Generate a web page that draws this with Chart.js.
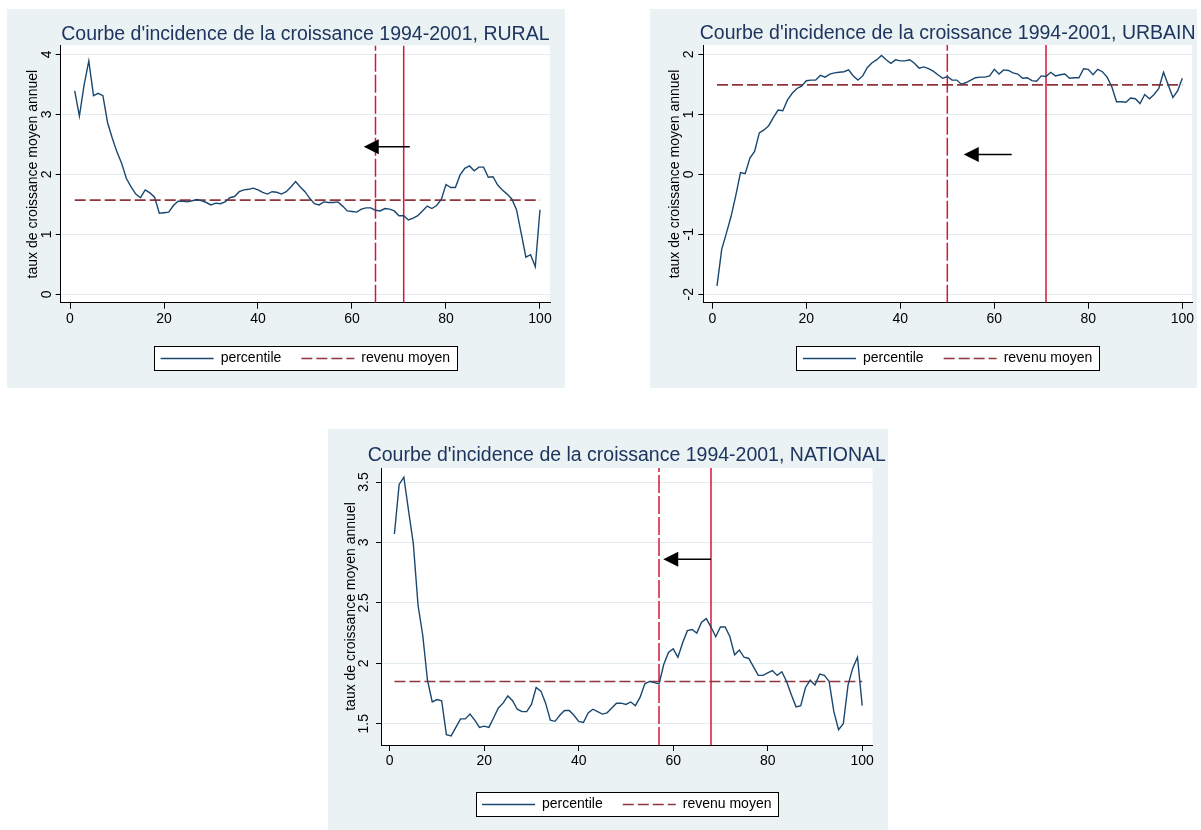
<!DOCTYPE html>
<html>
<head>
<meta charset="utf-8">
<script src="https://cdn.jsdelivr.net/npm/chart.js@4.4.1/dist/chart.umd.min.js"></script>
<style>
html,body{margin:0;padding:0;background:#ffffff;width:1201px;height:830px;overflow:hidden}
.panel{position:absolute;background:#eaf2f3}
.panel canvas{display:block}
</style>
</head>
<body>
<div class="panel" style="left:7px;top:9px;width:558px;height:379px"><canvas id="cRural" width="558" height="379"></canvas></div>
<div class="panel" style="left:650px;top:9px;width:547px;height:379px"><canvas id="cUrbain" width="547" height="379"></canvas></div>
<div class="panel" style="left:328px;top:429px;width:560px;height:401px"><canvas id="cNational" width="560" height="401"></canvas></div>
<script>
// ---------------- DATA ----------------
const percentiles = [1,2,3,4,5,6,7,8,9,10,11,12,13,14,15,16,17,18,19,20,
  21,22,23,24,25,26,27,28,29,30,31,32,33,34,35,36,37,38,39,40,
  41,42,43,44,45,46,47,48,49,50,51,52,53,54,55,56,57,58,59,60,
  61,62,63,64,65,66,67,68,69,70,71,72,73,74,75,76,77,78,79,80,
  81,82,83,84,85,86,87,88,89,90,91,92,93,94,95,96,97,98,99,100];
const xTickValues = [0,20,40,60,80,100];
const seriesLabels = ['percentile','revenu moyen'];
const yAxisTitle = 'taux de croissance moyen annuel';

const ruralTitle = "Courbe d'incidence de la croissance 1994-2001, RURAL";
const ruralValues = [3.39,2.97,3.49,3.89,3.31,3.35,3.31,2.86,2.60,2.37,
  2.18,1.93,1.79,1.67,1.61,1.74,1.69,1.62,1.35,1.36,
  1.37,1.48,1.55,1.55,1.54,1.56,1.58,1.56,1.53,1.49,
  1.52,1.51,1.54,1.61,1.63,1.71,1.74,1.75,1.77,1.74,
  1.70,1.67,1.71,1.70,1.67,1.71,1.79,1.88,1.79,1.71,
  1.60,1.51,1.49,1.54,1.53,1.53,1.54,1.47,1.39,1.38,
  1.37,1.42,1.44,1.44,1.40,1.39,1.43,1.42,1.39,1.31,
  1.31,1.24,1.27,1.31,1.39,1.47,1.43,1.48,1.58,1.83,
  1.78,1.78,1.99,2.10,2.14,2.06,2.12,2.12,1.95,1.96,
  1.82,1.74,1.67,1.59,1.41,1.02,0.62,0.66,0.46,1.41];
const ruralMean = 1.57;
const ruralVLines = [65, 71];          // dashed, solid
const ruralArrow = [72.3, 62.5, 2.46]; // tail x, tip x, y
const ruralYTicks = [0,1,2,3,4];

const urbainTitle = "Courbe d'incidence de la croissance 1994-2001, URBAIN";
const urbainValues = [-1.86,-1.25,-0.98,-0.70,-0.35,0.03,0.01,0.27,0.38,0.69,
  0.74,0.81,0.95,1.07,1.06,1.24,1.35,1.43,1.47,1.56,
  1.57,1.57,1.65,1.62,1.67,1.69,1.70,1.71,1.74,1.64,
  1.57,1.64,1.78,1.86,1.91,1.98,1.91,1.85,1.91,1.89,
  1.89,1.91,1.85,1.77,1.79,1.76,1.72,1.66,1.60,1.63,
  1.57,1.57,1.50,1.53,1.57,1.61,1.62,1.62,1.64,1.75,
  1.67,1.74,1.73,1.69,1.67,1.60,1.61,1.56,1.55,1.64,
  1.63,1.70,1.64,1.66,1.67,1.60,1.61,1.61,1.76,1.75,
  1.66,1.75,1.71,1.62,1.46,1.21,1.21,1.20,1.27,1.26,
  1.18,1.33,1.26,1.33,1.43,1.70,1.49,1.28,1.39,1.60];
const urbainMean = 1.49;
const urbainVLines = [50, 71];
const urbainArrow = [63.7, 53.5, 0.33];
const urbainYTicks = [-2,-1,0,1,2];

const nationalTitle = "Courbe d'incidence de la croissance 1994-2001, NATIONAL";
const nationalValues = [3.07,3.48,3.54,3.26,2.99,2.48,2.23,1.86,1.68,1.70,
  1.69,1.41,1.40,1.47,1.54,1.54,1.58,1.53,1.47,1.48,
  1.47,1.55,1.63,1.67,1.73,1.69,1.62,1.60,1.60,1.66,
  1.80,1.77,1.67,1.53,1.52,1.57,1.61,1.61,1.57,1.52,
  1.51,1.59,1.62,1.60,1.58,1.59,1.63,1.67,1.67,1.66,
  1.68,1.65,1.72,1.83,1.85,1.84,1.83,1.99,2.09,2.12,
  2.05,2.17,2.27,2.28,2.25,2.34,2.37,2.30,2.22,2.30,
  2.30,2.22,2.07,2.11,2.05,2.04,1.97,1.90,1.90,1.92,
  1.94,1.90,1.93,1.85,1.74,1.64,1.65,1.80,1.86,1.82,
  1.91,1.90,1.85,1.60,1.45,1.50,1.82,1.96,2.05,1.65];
const nationalMean = 1.85;
const nationalVLines = [57, 68];
const nationalArrow = [68, 57.9, 2.86];
const nationalYTicks = [1.5,2,2.5,3,3.5];

// ---------------- STYLE ----------------
const FONT = '"Liberation Sans", Arial, Helvetica, sans-serif';
const NAVY = '#1a476f';
const MAROON = '#90353b';
const RED = '#d4163c';
const BG = '#eaf2f3';
const GRID = '#e3ecee';
const TITLE_COLOR = '#1e3560';
const LEGEND_SAMPLE = 53;
Chart.defaults.font.family = FONT;
Chart.defaults.color = '#000';

const stataPlugin = {
  id: 'stata',
  afterLayout(chart) {
    const tb = chart.titleBlock, ca = chart.chartArea;
    if (tb && ca) {
      const c = (ca.left + ca.right) / 2;
      tb.left = c - 400; tb.right = c + 400; tb.width = 800;
    }
  },
  beforeDraw(chart) {
    const {ctx, chartArea: ca, width, height} = chart;
    ctx.save();
    ctx.fillStyle = BG;
    ctx.fillRect(0, 0, width, height);
    ctx.fillStyle = '#ffffff';
    ctx.fillRect(ca.left, ca.top, ca.right - ca.left, ca.bottom - ca.top);
    const hb = chart.legend && chart.legend.legendHitBoxes;
    if (hb && hb.length) {
      const first = hb[0], last = hb[hb.length - 1];
      const cy = first.top + first.height / 2;
      const x0 = Math.round(first.left - 6.5), x1 = Math.round(last.left + last.width + 6.5);
      const y0 = Math.round(cy - 12.2), y1 = Math.round(cy + 12.2);
      ctx.fillStyle = '#ffffff';
      ctx.fillRect(x0, y0, x1 - x0, y1 - y0);
      ctx.strokeStyle = '#000';
      ctx.lineWidth = 1;
      ctx.strokeRect(x0 + 0.5, y0 + 0.5, x1 - x0, y1 - y0);
    }
    ctx.restore();
  },
  afterDatasetsDraw(chart, args, opts) {
    const a = opts.arrow;
    if (!a) return;
    const xs = chart.scales.x, ys = chart.scales.y, ctx = chart.ctx;
    const tail = xs.getPixelForValue(a[0]);
    const tip = xs.getPixelForValue(a[1]);
    const y = ys.getPixelForValue(a[2]);
    ctx.save();
    ctx.strokeStyle = '#000';
    ctx.lineWidth = 1.5;
    ctx.beginPath();
    ctx.moveTo(tail, y);
    ctx.lineTo(tip + 12, y);
    ctx.stroke();
    ctx.fillStyle = '#000';
    ctx.beginPath();
    ctx.moveTo(tip, y);
    ctx.lineTo(tip + 15, y - 7.5);
    ctx.lineTo(tip + 15, y + 7.5);
    ctx.closePath();
    ctx.fill();
    ctx.restore();
  },
  afterDraw(chart, args, opts) {
    const ys = chart.scales.y, ctx = chart.ctx;
    ctx.save();
    // rotated y tick labels
    ctx.font = '14px ' + FONT;
    ctx.fillStyle = '#000';
    ctx.textAlign = 'center';
    ctx.textBaseline = 'middle';
    for (const t of ys.ticks) {
      const y = ys.getPixelForValue(t.value);
      ctx.save();
      ctx.translate(opts.yLabelX, y);
      ctx.rotate(-Math.PI / 2);
      ctx.fillText(String(t.value), 0, 0);
      ctx.restore();
    }
    // legend sample lines (with the dataset dash pattern)
    const hb = chart.legend && chart.legend.legendHitBoxes;
    const items = chart.legend && chart.legend.legendItems;
    if (hb && items) {
      items.forEach((item, i) => {
        const ds = chart.data.datasets[item.datasetIndex];
        const box = hb[i];
        const cy = Math.round(box.top + box.height / 2) + 0.5;
        ctx.save();
        ctx.strokeStyle = ds.borderColor;
        ctx.lineWidth = ds.borderWidth;
        ctx.setLineDash(ds.borderDash || []);
        ctx.beginPath();
        ctx.moveTo(box.left, cy);
        ctx.lineTo(box.left + LEGEND_SAMPLE, cy);
        ctx.stroke();
        ctx.restore();
      });
    }
    ctx.restore();
  }
};

function makeChart(id, p) {
  const TITLE_LH = 19.5 * 1.2;
  const legendTop = p.legendCenter - 27;
  const datasets = [
    {
      label: seriesLabels[0],
      data: percentiles.map((x, i) => ({x: x, y: p.values[i]})),
      borderColor: NAVY, backgroundColor: NAVY, borderWidth: 1.4,
      pointRadius: 0, tension: 0, fill: false
    },
    {
      label: seriesLabels[1],
      data: [{x: percentiles[0], y: p.mean}, {x: percentiles[percentiles.length - 1], y: p.mean}],
      borderColor: MAROON, backgroundColor: MAROON, borderWidth: 1.6, borderDash: [11, 4],
      pointRadius: 0, fill: false
    },
    {
      label: 'vline-dash',
      data: [{x: p.vlines[0], y: p.yMin}, {x: p.vlines[0], y: p.yMax}],
      borderColor: RED, borderWidth: 1.5, borderDash: [18, 3], pointRadius: 0, fill: false
    },
    {
      label: 'vline-solid',
      data: [{x: p.vlines[1], y: p.yMin}, {x: p.vlines[1], y: p.yMax}],
      borderColor: RED, borderWidth: 1.5, pointRadius: 0, fill: false
    }
  ];
  return new Chart(document.getElementById(id), {
    type: 'line',
    data: {datasets: datasets},
    plugins: [stataPlugin],
    options: {
      responsive: false,
      animation: false,
      devicePixelRatio: 1,
      events: [],
      layout: {
        padding: {
          left: 0,
          right: p.w - p.chartRight,
          top: p.titleMid - TITLE_LH / 2,
          bottom: p.h - (p.legendCenter + 17)
        }
      },
      scales: {
        x: {
          type: 'linear',
          min: p.xMin, max: p.xMax,
          afterBuildTicks: (s) => { s.ticks = xTickValues.map(v => ({value: v})); },
          afterFit: (s) => { s.height = legendTop - p.chartBottom; },
          ticks: {color: '#000', font: {size: 14}, padding: 2, callback: (v) => String(v), maxRotation: 0, autoSkip: false},
          grid: {drawOnChartArea: false, drawTicks: true, tickLength: 6, tickColor: '#000', lineWidth: 1},
          border: {display: true, color: '#000', width: 1}
        },
        y: {
          type: 'linear',
          min: p.yMin, max: p.yMax,
          afterBuildTicks: (s) => { s.ticks = p.yTicks.map(v => ({value: v})); },
          afterFit: (s) => { s.width = p.chartLeft; },
          ticks: {display: false},
          grid: {drawOnChartArea: true, color: GRID, lineWidth: 1, drawTicks: true, tickLength: 5, tickColor: '#000'},
          border: {display: true, color: '#000', width: 1},
          title: {display: true, text: yAxisTitle, color: '#000', font: {size: 14}, padding: {top: p.yTitleX - 8.4, bottom: 0}}
        }
      },
      plugins: {
        title: {
          display: true, text: p.title, color: TITLE_COLOR, fullSize: false,
          font: {size: 19.5, weight: 'normal'},
          padding: {top: 0, bottom: p.chartTop - p.titleMid - TITLE_LH / 2}
        },
        legend: {
          display: true, position: 'bottom', fullSize: false, align: 'center',
          labels: {
            usePointStyle: true, pointStyle: 'line', pointStyleWidth: LEGEND_SAMPLE,
            font: {size: 14}, color: '#000', padding: 20,
            filter: (item) => item.datasetIndex < 2,
            generateLabels: (chart) => Chart.defaults.plugins.legend.labels.generateLabels(chart).map(it => {
              it.strokeStyle = 'rgba(0,0,0,0)';
              it.fillStyle = 'rgba(0,0,0,0)';
              return it;
            })
          }
        },
        tooltip: {enabled: false},
        stata: {arrow: p.arrow, yLabelX: p.yLabelX}
      }
    }
  });
}

makeChart('cRural', {
  title: ruralTitle, values: ruralValues, mean: ruralMean, vlines: ruralVLines, arrow: ruralArrow, yTicks: ruralYTicks,
  w: 558, h: 379, chartLeft: 53.7, chartRight: 543, chartTop: 36.5, chartBottom: 293.7,
  xMin: -1.98, xMax: 102.13, yMin: -0.14, yMax: 4.147,
  legendCenter: 348.9, titleMid: 25.3, yTitleX: 26, yLabelX: 39.7
});
makeChart('cUrbain', {
  title: urbainTitle, values: urbainValues, mean: urbainMean, vlines: urbainVLines, arrow: urbainArrow, yTicks: urbainYTicks,
  w: 547, h: 379, chartLeft: 53.3, chartRight: 542, chartTop: 36, chartBottom: 293.7,
  xMin: -1.915, xMax: 102.06, yMin: -2.14, yMax: 2.155,
  legendCenter: 348.9, titleMid: 25.1, yTitleX: 25, yLabelX: 39
});
makeChart('cNational', {
  title: nationalTitle, values: nationalValues, mean: nationalMean, vlines: nationalVLines, arrow: nationalArrow, yTicks: nationalYTicks,
  w: 560, h: 401, chartLeft: 53, chartRight: 544.5, chartTop: 39, chartBottom: 316,
  xMin: -1.84, xMax: 102.18, yMin: 1.324, yMax: 3.616,
  legendCenter: 375, titleMid: 26.8, yTitleX: 23.5, yLabelX: 36.5
});
</script>
</body>
</html>
